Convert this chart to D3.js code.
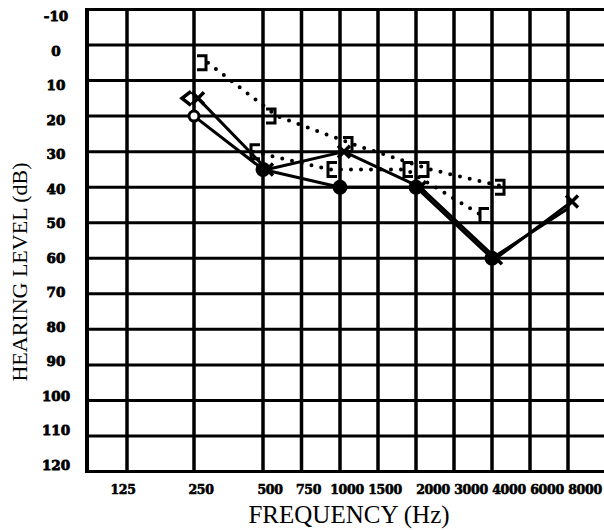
<!DOCTYPE html>
<html>
<head>
<meta charset="utf-8">
<script src="https://cdn.jsdelivr.net/npm/d3@7"></script>
<style>
  html, body { margin: 0; padding: 0; background: #fff; }
  svg { display: block; }
</style>
</head>
<body>
<div id="chart-area"></div>
<script>
// audiogram data (dB HL)
var freqs = [125, 250, 500, 750, 1000, 1500, 2000, 3000, 4000, 6000, 8000];
var octaveFreqs = [125, 250, 500, 1000, 2000, 4000, 8000];
var dbTicks = [-10, 0, 10, 20, 30, 40, 50, 60, 70, 80, 90, 100, 110, 120];

var airFreqs = [250, 500, 1000, 2000, 4000, 8000];
var rightAir = [20, 35, 40, 40, 60, 46];   // O
var leftAir = [15, 35, 30, 40, 60, 44];    // X

var rightBoneFreqs = [250];
var rightBone = [15];                      // <

var maskRightFreqs = [500, 1000, 2000, 4000];
var maskRight = [30, 35, 35, 48];          // [
var maskLeftFreqs = [250, 500, 1000, 2000, 4000];
var maskLeft = [5, 20, 28, 35, 40];        // ]

document.addEventListener("DOMContentLoaded", function() {
    var width = 604, height = 530;

    var svg = d3.select("#chart-area").append("svg")
        .attr("width", width)
        .attr("height", height);

    // octaves are not equally wide on this form, mid freqs sit half way
    var octaveWidths = [67, 69, 77, 76, 76, 76];
    var x = d3.scaleLinear()
        .domain(octaveFreqs)
        .range(Array.from(d3.cumsum([127].concat(octaveWidths))));
    var y = d3.scaleLinear().domain([-10, 120]).range([9.5, 471.5]);
    var yLabel = d3.scaleLinear().domain([-10, 120]).range([16, 465]);

    var left = x(125) - 40, right = x(8000) + 38;

    // grid
    var grid = svg.append("g");
    grid.selectAll("line.h")
        .data(dbTicks)
        .enter().append("line")
            .attr("class", "h")
            .attr("x1", left).attr("x2", right)
            .attr("y1", d => y(d)).attr("y2", d => y(d))
            .attr("stroke", "#000")
            .attr("stroke-width", 3);
    grid.selectAll("line.v")
        .data(freqs)
        .enter().append("line")
            .attr("class", "v")
            .attr("x1", d => x(d)).attr("x2", d => x(d))
            .attr("y1", y(-10)).attr("y2", y(120))
            .attr("stroke", "#000")
            .attr("stroke-width", 3.5);
    grid.append("line")
        .attr("x1", left).attr("x2", left)
        .attr("y1", y(-10) - 1.5).attr("y2", y(120) + 1.5)
        .attr("stroke", "#000").attr("stroke-width", 4);

    // tick labels (heavy, blotchy print)
    svg.append("g").selectAll("text")
        .data(dbTicks)
        .enter().append("text")
            .attr("x", 56)
            .attr("y", d => yLabel(d))
            .attr("text-anchor", "middle")
            .attr("dominant-baseline", "central")
            .attr("font-family", "DejaVu Serif")
            .attr("font-weight", "bold")
            .attr("font-size", 13.5)
            .attr("stroke", "#000")
            .attr("stroke-width", 0.8)
            .text(d => d);

    svg.append("g").selectAll("text")
        .data(freqs)
        .enter().append("text")
            .attr("x", (d, i) => x(d) + (i < 1 ? -4 : (i < 6 ? 7 : 17)))
            .attr("y", 494)
            .attr("text-anchor", "middle")
            .attr("font-family", "DejaVu Serif")
            .attr("font-weight", "bold")
            .attr("font-size", 12.5)
            .attr("letter-spacing", -0.3)
            .attr("stroke", "#000")
            .attr("stroke-width", 0.6)
            .text(d => d);

    // axis titles
    svg.append("text")
        .attr("x", 349).attr("y", 523)
        .attr("text-anchor", "middle")
        .attr("font-family", "Liberation Serif")
        .attr("font-size", 25)
        .text("FREQUENCY (Hz)");

    svg.append("text")
        .attr("transform", "translate(27,272) rotate(-90)")
        .attr("text-anchor", "middle")
        .attr("font-family", "Liberation Serif")
        .attr("font-size", 22)
        .text("HEARING LEVEL (dB)");

    // series lines
    var line = d3.line().x(d => x(d[0])).y(d => y(d[1]));
    var plot = svg.append("g");

    function zip(fs, vs) { return fs.map((f, i) => [f, vs[i]]); }

    [zip(airFreqs, rightAir), zip(airFreqs, leftAir)].forEach(function(pts, k) {
        plot.append("path")
            .datum(pts)
            .attr("d", line)
            .attr("transform", k === 1 ? "translate(4,0)" : null)
            .attr("fill", "none")
            .attr("stroke", "#000")
            .attr("stroke-width", 3)
            .attr("stroke-linejoin", "round");
    });

    [[zip(maskLeftFreqs, maskLeft), 14], [zip(maskRightFreqs, maskRight), -10]].forEach(function(s) {
        plot.append("path")
            .datum(s[0])
            .attr("d", line)
            .attr("transform", "translate(" + s[1] + ",0)")
            .attr("fill", "none")
            .attr("stroke", "#000")
            .attr("stroke-width", 4)
            .attr("stroke-linecap", "round")
            .attr("stroke-dasharray", "0 10");
    });

    // symbols
    plot.selectAll("circle.o")
        .data(zip(airFreqs, rightAir).slice(0, 5))
        .enter().append("circle")
            .attr("class", "o")
            .attr("cx", d => x(d[0]))
            .attr("cy", d => y(d[1]))
            .attr("r", (d, i) => i === 0 ? 5 : 6)
            .attr("fill", (d, i) => i === 0 ? "#fff" : "#000")
            .attr("stroke", "#000")
            .attr("stroke-width", 3);

    plot.selectAll("path.x")
        .data(zip(airFreqs, leftAir))
        .enter().append("path")
            .attr("class", "x")
            .attr("transform", d => "translate(" + (x(d[0]) + 4) + "," + y(d[1]) + ")")
            .attr("d", "M-6,-6L6,6M-6,6L6,-6")
            .attr("stroke", "#000")
            .attr("stroke-width", 3.5);

    plot.selectAll("path.lt")
        .data(zip(rightBoneFreqs, rightBone))
        .enter().append("path")
            .attr("class", "lt")
            .attr("transform", d => "translate(" + (x(d[0]) - 8) + "," + y(d[1]) + ")")
            .attr("d", "M5,-7L-4,0L5,7")
            .attr("fill", "none")
            .attr("stroke", "#000")
            .attr("stroke-width", 3.5);

    plot.selectAll("path.rb")
        .data(zip(maskLeftFreqs, maskLeft))
        .enter().append("path")
            .attr("class", "rb")
            .attr("transform", d => "translate(" + (x(d[0]) + 8) + "," + y(d[1]) + ")")
            .attr("d", "M-5,-7L4,-7L4,7L-5,7")
            .attr("fill", "none")
            .attr("stroke", "#000")
            .attr("stroke-width", 3);

    plot.selectAll("path.lb")
        .data(zip(maskRightFreqs, maskRight))
        .enter().append("path")
            .attr("class", "lb")
            .attr("transform", d => "translate(" + (x(d[0]) - 8) + "," + y(d[1]) + ")")
            .attr("d", "M5,-7L-4,-7L-4,7L5,7")
            .attr("fill", "none")
            .attr("stroke", "#000")
            .attr("stroke-width", 3);
});
</script>
</body>
</html>
